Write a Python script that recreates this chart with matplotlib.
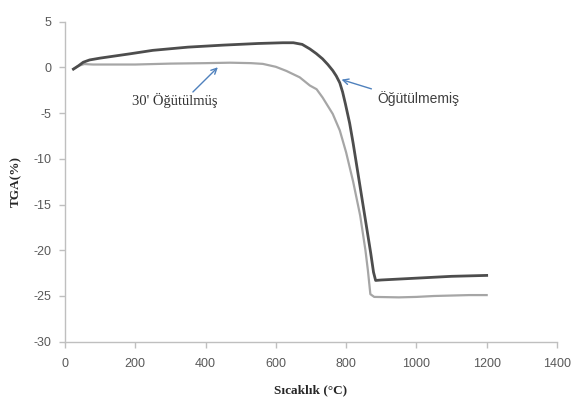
import matplotlib
matplotlib.use("Agg")
import matplotlib.pyplot as plt
import numpy as np

# Öğütülmemiş (dark curve)
x_unmilled = [24, 38, 52, 70, 100, 185, 250, 350, 450, 550, 620, 650, 675, 697, 715, 733, 748, 762, 772, 782,
              790, 798, 810, 820, 830, 840, 850, 860, 870, 878, 884, 900, 950, 1000, 1050, 1100, 1150, 1200]
y_unmilled = [-0.2, 0.15, 0.55, 0.8, 1.0, 1.47, 1.85, 2.2, 2.42, 2.6, 2.68, 2.68, 2.5, 2.0, 1.5, 0.92, 0.3, -0.36, -0.95, -1.7,
              -2.7, -4.0, -6.1, -8.3, -10.7, -13.1, -15.5, -17.9, -20.3, -22.4, -23.3, -23.25, -23.15, -23.05, -22.95, -22.85, -22.8, -22.75]

# 30' Öğütülmüş (light curve)
x_milled = [24, 38, 55, 80, 100, 200, 300, 400, 470, 530, 563, 600, 630, 668, 697, 716, 733, 762, 782,
            800, 820, 840, 855, 862, 869, 880, 950, 1000, 1050, 1100, 1150, 1200]
y_milled = [-0.2, 0.15, 0.35, 0.3, 0.3, 0.3, 0.4, 0.45, 0.5, 0.45, 0.37, 0.05, -0.4, -1.1, -2.0, -2.4, -3.3, -5.1, -6.9,
            -9.3, -12.5, -16.2, -20.0, -22.2, -24.8, -25.1, -25.15, -25.1, -25.0, -24.95, -24.9, -24.9]

x_ticks = [0, 200, 400, 600, 800, 1000, 1200, 1400]
y_ticks = [5, 0, -5, -10, -15, -20, -25, -30]

fig = plt.figure(figsize=(5.73, 4.03), dpi=100)
ax = fig.add_axes([0.1134, 0.152, 0.8586, 0.7946])

ax.plot(x_milled, y_milled, color="#a6a6a6", lw=1.6, solid_joinstyle="round")
ax.plot(x_unmilled, y_unmilled, color="#4d4d4d", lw=2.0, solid_joinstyle="round")

ax.set_xlim(0, 1400)
ax.set_ylim(-30, 5)
ax.set_xticks(x_ticks)
ax.set_yticks(y_ticks)
ax.set_xticklabels([str(v) for v in x_ticks])
ax.set_yticklabels([str(v) for v in y_ticks])

for s in ["top", "right"]:
    ax.spines[s].set_visible(False)
for s in ["left", "bottom"]:
    ax.spines[s].set_color("#bfbfbf")
    ax.spines[s].set_linewidth(1.0)
ax.tick_params(axis="both", colors="#bfbfbf", labelcolor="#595959", labelsize=9,
               length=4, width=1, direction="out")
ax.tick_params(axis="x", pad=8)
ax.tick_params(axis="y", pad=6)
for lab in ax.get_xticklabels() + ax.get_yticklabels():
    lab.set_family("Liberation Sans")

ax.set_xlabel("Sıcaklık (°C)", family="Liberation Serif", fontweight="bold", fontsize=9.5,
              color="#262626", labelpad=10)
ax.set_ylabel("TGA(%)", family="Liberation Serif", fontweight="bold", fontsize=9.5,
              color="#262626", labelpad=8)

arrow = dict(arrowstyle="->", color="#4f81bd", lw=1.0, shrinkA=0, shrinkB=0)
ax.annotate("", xy=(435, 0.0), xytext=(364, -2.7), arrowprops=arrow)
ax.text(313, -3.65, "30' Öğütülmüş", family="Liberation Serif", fontsize=10.5,
        color="#333333", ha="center", va="center")
ax.annotate("", xy=(787, -1.35), xytext=(872, -2.36), arrowprops=arrow)
ax.text(888, -3.4, "Öğütülmemiş", family="Liberation Sans", fontsize=10,
        color="#404040", ha="left", va="center")

fig.savefig("out.png", dpi=100)
